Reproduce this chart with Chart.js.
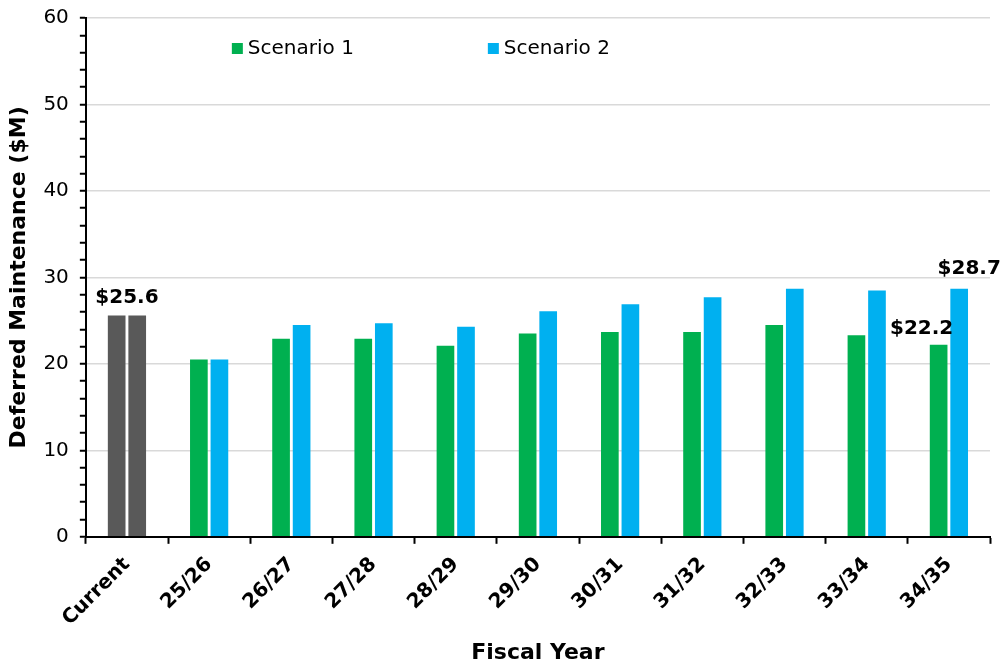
<!DOCTYPE html>
<html>
<head>
<meta charset="utf-8">
<script src="https://cdn.jsdelivr.net/npm/chart.js@4/dist/chart.umd.min.js"></script>
<style>
  html, body { margin: 0; padding: 0; background: #ffffff; }
  #wrap { width: 1002px; height: 666px; position: relative; }
</style>
</head>
<body>
<div id="wrap"><canvas id="chart-dm"></canvas></div>
<script>
const FISCAL_YEARS = ['Current', '25/26', '26/27', '27/28', '28/29', '29/30', '30/31', '31/32', '32/33', '33/34', '34/35'];
const SCENARIO_1 = [25.6, 20.5, 22.9, 22.9, 22.1, 23.5, 23.7, 23.7, 24.5, 23.3, 22.2];
const SCENARIO_2 = [25.6, 20.5, 24.5, 24.7, 24.3, 26.1, 26.9, 27.7, 28.7, 28.5, 28.7];

const GREEN = '#00b050';
const BLUE = '#00b0f0';
const GREY = '#595959';
const FONT = '"DejaVu Sans", Verdana, sans-serif';

// the "Current" column is shown in grey for both scenarios
function barColors(base) {
  return FISCAL_YEARS.map(label => label === 'Current' ? GREY : base);
}

// value callouts: which bar(s), and a nudge from the bar top
const CALLOUTS = [
  { datasets: [0, 1], index: 0, dx: 0, dy: -18 },
  { datasets: [0], index: 10, dx: -17, dy: -16 },
  { datasets: [1], index: 10, dx: 10, dy: -20 }
];

const calloutPlugin = {
  id: 'callouts',
  afterDatasetsDraw(chart) {
    const ctx = chart.ctx;
    ctx.save();
    ctx.font = 'bold 20px ' + FONT;
    ctx.fillStyle = '#000';
    ctx.textAlign = 'center';
    ctx.textBaseline = 'middle';
    CALLOUTS.forEach(c => {
      const bars = c.datasets.map(d => chart.getDatasetMeta(d).data[c.index]);
      const x = bars.reduce((s, b) => s + b.x, 0) / bars.length;
      const y = Math.min(...bars.map(b => b.y));
      const value = chart.data.datasets[c.datasets[0]].data[c.index];
      ctx.fillText('$' + value.toFixed(1), x + c.dx, y + c.dy);
    });
    ctx.restore();
  }
};

// legend sits inside the plot, near the top
const insideLegend = {
  id: 'insideLegend',
  afterDraw(chart) {
    const ctx = chart.ctx;
    const area = chart.chartArea;
    const offsets = [146, 402];
    ctx.save();
    ctx.font = '20px ' + FONT;
    ctx.textBaseline = 'middle';
    chart.data.datasets.forEach((ds, i) => {
      const x = area.left + offsets[i];
      const y = area.top + 30;
      ctx.fillStyle = ds.legendColor;
      ctx.fillRect(x, y - 5, 11, 11);
      ctx.fillStyle = '#000';
      ctx.textAlign = 'left';
      ctx.fillText(ds.label, x + 16, y + 1);
    });
    ctx.restore();
  }
};

new Chart(document.getElementById('chart-dm'), {
  type: 'bar',
  data: {
    labels: FISCAL_YEARS,
    datasets: [
      { label: 'Scenario 1', data: SCENARIO_1, backgroundColor: barColors(GREEN), legendColor: GREEN },
      { label: 'Scenario 2', data: SCENARIO_2, backgroundColor: barColors(BLUE), legendColor: BLUE }
    ]
  },
  options: {
    responsive: true,
    maintainAspectRatio: false,
    animation: false,
    categoryPercentage: 0.5,
    barPercentage: 0.86,
    layout: { padding: { top: 18, right: 12, left: 6, bottom: 0 } },
    plugins: {
      legend: { display: false },
      tooltip: { enabled: false }
    },
    scales: {
      x: {
        // let the rotated first label hang into the y-axis gutter
        afterFit: s => { s.paddingLeft = 0; },
        grid: { offset: true, drawOnChartArea: false, tickLength: 7, tickColor: '#000', tickWidth: 2 },
        border: { color: '#000', width: 2 },
        ticks: {
          color: '#000',
          font: { family: FONT, size: 20, weight: 'bold' },
          minRotation: 45,
          maxRotation: 45,
          autoSkip: false,
          padding: 9
        },
        title: {
          display: true,
          text: 'Fiscal Year',
          color: '#000',
          font: { family: FONT, size: 22, weight: 'bold' },
          padding: { top: 0, bottom: 0 }
        }
      },
      y: {
        min: 0,
        max: 60,
        afterFit: s => { s.paddingTop = 0; },
        grid: {
          color: c => c.tick && c.tick.value % 10 === 0 ? '#d9d9d9' : 'rgba(0,0,0,0)',
          lineWidth: 1.5,
          tickLength: 6,
          tickColor: '#000',
          tickWidth: 2
        },
        border: { color: '#000', width: 2 },
        ticks: {
          stepSize: 2,
          autoSkip: false,
          color: '#000',
          font: { family: FONT, size: 20 },
          padding: 11,
          callback: v => v % 10 === 0 ? v : ''
        },
        title: {
          display: true,
          text: 'Deferred Maintenance ($M)',
          color: '#000',
          font: { family: FONT, size: 22, weight: 'bold' },
          padding: { top: 0, bottom: 0 }
        }
      }
    }
  },
  plugins: [calloutPlugin, insideLegend]
});
</script>
</body>
</html>
